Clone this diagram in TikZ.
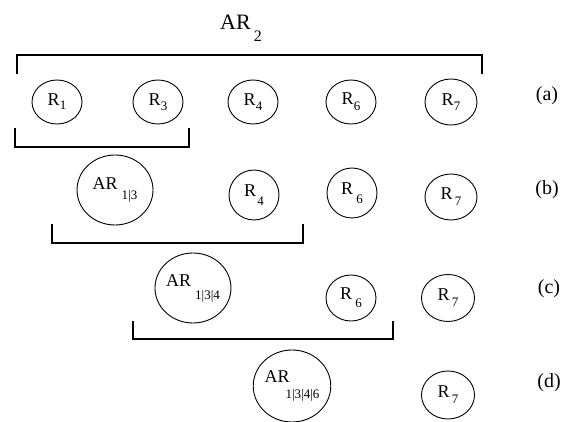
\documentclass[tikz,border=0pt]{standalone}
\usepackage{fontspec}
\setmainfont{Liberation Serif}
\usetikzlibrary{shapes.geometric}
\tikzset{
  reg/.style={draw, ellipse, line width=0.9pt, minimum width=50pt, minimum height=44pt, inner sep=0pt, font=\fontsize{18}{20}\selectfont},
  agg/.style={draw, ellipse, line width=0.9pt, minimum width=76pt, minimum height=70pt, inner sep=0pt, font=\fontsize{18}{20}\selectfont},
  brk/.style={line width=2.4pt},
  lab/.style={font=\fontsize{20}{22}\selectfont},
}
\newcommand{\lsub}[2]{\raisebox{-#1}{\fontsize{13}{14}\selectfont #2}}
\begin{document}
\begin{tikzpicture}[x=1pt,y=-1pt]
\useasboundingbox (0,0) rectangle (566,422);
\node[font=\fontsize{22}{24}\selectfont, anchor=base west, inner sep=0pt] (ar2) at (220,30) {AR\hspace{3pt}\raisebox{-12pt}{\fontsize{16}{18}\selectfont 2}};
\draw[brk] (17,74) -- (17,55) -- (482,55) -- (482,74);
% row a
\node[reg] (a1) at (57,102) {R\lsub{4pt}{1}};
\node[reg] (a3) at (158,102) {R\lsub{5pt}{3}};
\node[reg] (a4) at (253,102) {R\lsub{5pt}{4}};
\node[reg] (a6) at (351,102) {R\lsub{6pt}{6}};
\node[reg, minimum width=52pt, minimum height=46pt] (a7) at (451,102) {R\lsub{5pt}{7}};
\node[lab] (la) at (547,96) {(a)};
\draw[brk] (15,128) -- (15,147) -- (189,147) -- (189,128);
% row b
\node[agg] (b13) at (115,190) {AR\hspace{4pt}\lsub{10pt}{1|3}};
\node[reg, minimum height=50pt] (b4) at (254,195) {R\hspace{1pt}\lsub{9pt}{4}};
\node[reg, minimum height=50pt] (b6) at (352,193) {R\hspace{3pt}\lsub{9pt}{6}};
\node[reg, minimum width=52pt, minimum height=46pt] (b7) at (451,197) {R\hspace{2pt}\lsub{6pt}{7}};
\node[lab] (lb) at (547,190) {(b)};
\draw[brk] (52,224) -- (52,243) -- (303,243) -- (303,224);
% row c
\node[agg] (c134) at (193,288) {AR\hspace{4pt}\lsub{13pt}{1|3|4}};
\node[reg, minimum height=46pt] (c6) at (351,298) {R\hspace{3pt}\lsub{8pt}{6}};
\node[reg, minimum width=53pt, minimum height=47pt] (c7) at (448,298) {R\hspace{2pt}\lsub{6pt}{7}};
\node[lab] (lc) at (549,289) {(c)};
\draw[brk] (133,321) -- (133,339) -- (393,339) -- (393,321);
% row d
\node[agg, minimum height=72pt] (d1346) at (292,386) {AR\hspace{-4pt}\lsub{16pt}{1|3|4|6}};
\node[reg, minimum width=53pt, minimum height=48pt] (d7) at (448,395) {R\hspace{2pt}\lsub{6pt}{7}};
\node[lab] (ld) at (549,383) {(d)};
\end{tikzpicture}
\end{document}
